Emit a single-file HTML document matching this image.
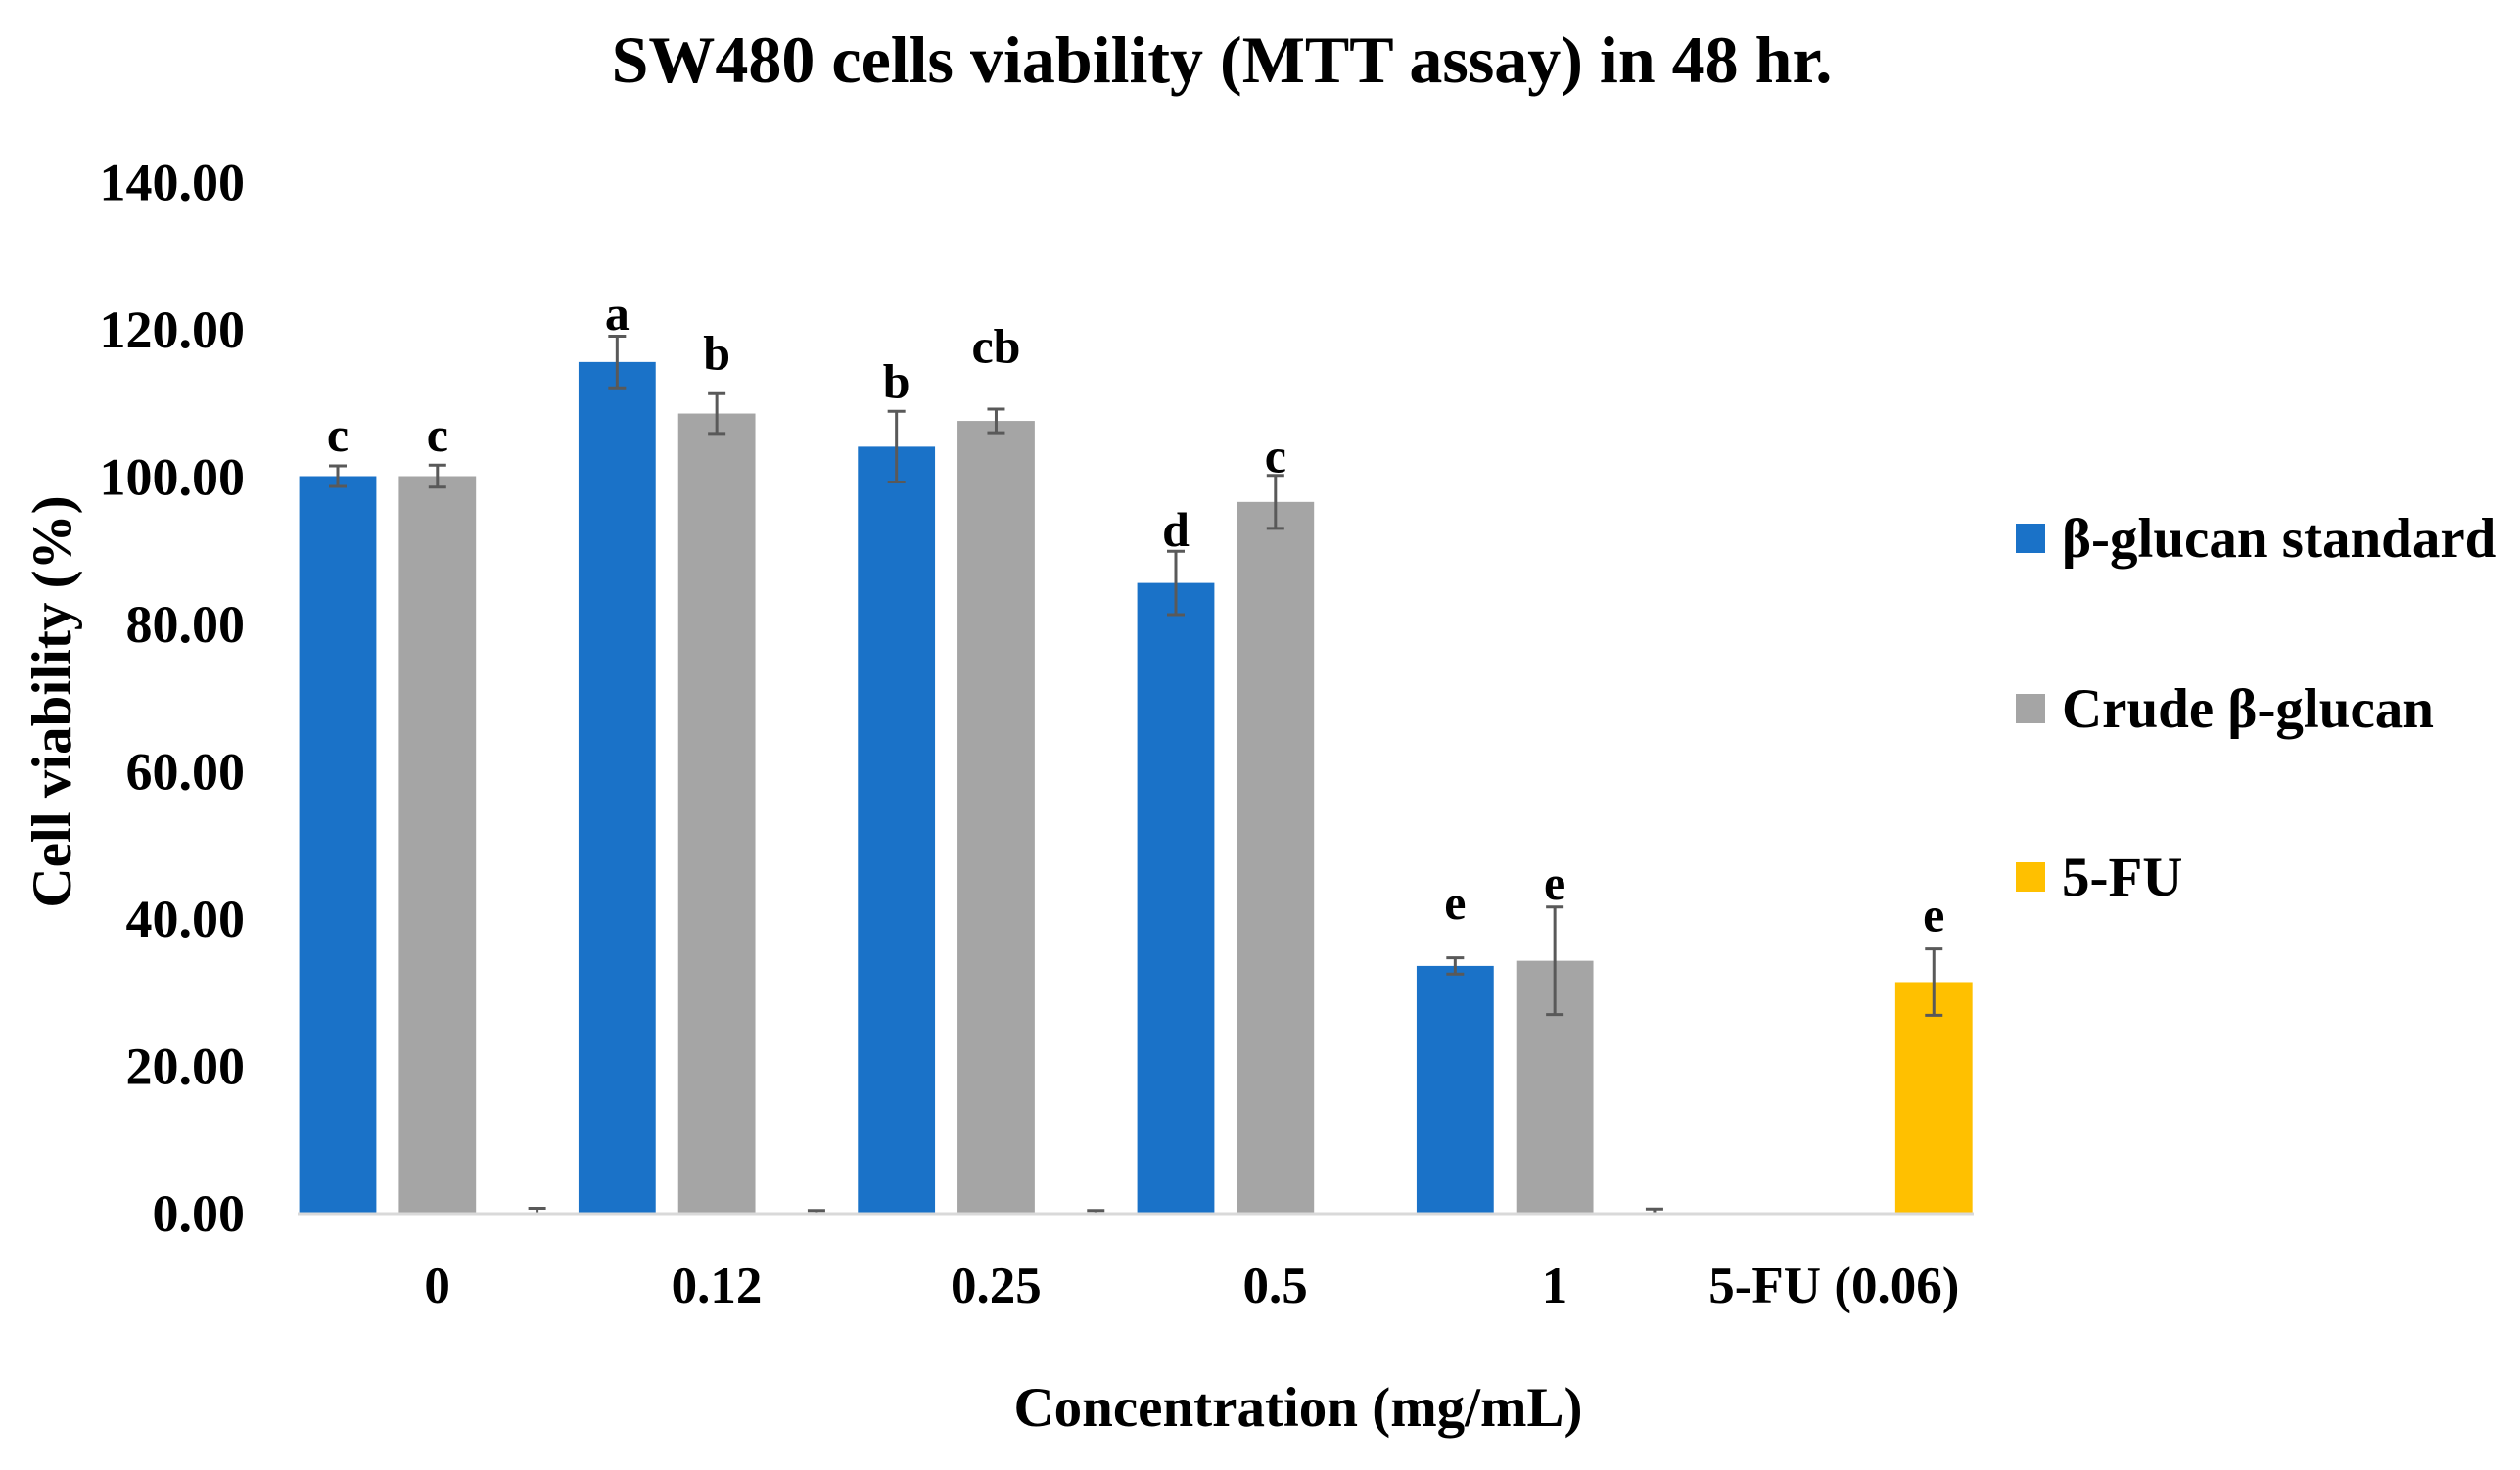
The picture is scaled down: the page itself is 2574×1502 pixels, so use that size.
<!DOCTYPE html>
<html><head><meta charset="utf-8"><style>
html,body{margin:0;padding:0;background:#fff;}
svg{display:block;font-family:"Liberation Serif",serif;font-weight:bold;}
</style></head><body>
<svg id="chart" width="2574" height="1502" viewBox="0 0 2574 1502" xmlns="http://www.w3.org/2000/svg">
<text x="1248" y="84" text-anchor="middle" font-size="68">SW480 cells viability (MTT assay) in 48 hr.</text>
<text transform="translate(72,717) rotate(-90)" text-anchor="middle" font-size="57">Cell viability (%)</text>
<text x="1326" y="1457" text-anchor="middle" font-size="57">Concentration (mg/mL)</text>
<g id="yticks"></g>
<g id="bars"></g>
<line x1="304" y1="1240" x2="2016" y2="1240" stroke="#d9d9d9" stroke-width="3"/>
<g id="xlabels"></g>
<g id="legend"></g>
</svg>
<script>
const categories = ["0","0.12","0.25","0.5","1","5-FU (0.06)"];
const seriesNames = ["β-glucan standard","Crude β-glucan","5-FU"];
const standardVals = [100, 115.5, 104, 85.5, 33.5, 0];
const crudeVals = [100, 108.5, 107.5, 96.5, 34.2, 0];
const fuVals = [0, 0, 0, 0, 0, 31.3];
const standardErr = [1.4, 3.5, 4.8, 4.3, 1.1, 0];
const crudeErr = [1.5, 2.7, 1.6, 3.6, 7.3, 0];
const fuErr = [0.6, 0.3, 0.3, 0, 0.5, 4.5];
const standardLetters = ["c","a","b","d","e",""];
const crudeLetters = ["c","b","cb","c","e",""];
const fuLetters = ["","","","","","e"];
const standardLetterY = [103.4, 119.9, 110.6, 90.5, 39.9, 0];
const crudeLetterY = [103.4, 114.5, 115.4, 100.5, 42.5, 0];
const fuLetterY = [0, 0, 0, 0, 0, 38.2];
const yTicks = [0,20,40,60,80,100,120,140];

const NS="http://www.w3.org/2000/svg";
const plotL=304, plotR=2016, y0=1239, yTopPx=185.5, yMax=140;
const catW=(plotR-plotL)/categories.length;
const barW=78.8, barStep=101.8, barOff=1.6;
const colors=["#1a72c8","#a5a5a5","#ffc000"];
function yScale(v){return y0-(v/yMax)*(y0-yTopPx);}
function xBar(ci,si){return plotL+ci*catW+barOff+si*barStep;}
function mk(tag,attrs,parent){const e=document.createElementNS(NS,tag);for(const k in attrs)e.setAttribute(k,attrs[k]);parent.appendChild(e);return e;}

const yt=document.getElementById('yticks');
yTicks.forEach(t=>{
  const e=mk('text',{x:250,y:yScale(t)+19,'text-anchor':'end','font-size':54},yt);
  
  
  e.textContent=t.toFixed(2);
});

const bars=document.getElementById('bars');
const vals=[standardVals,crudeVals,fuVals];
const errs=[standardErr,crudeErr,fuErr];
const lets=[standardLetters,crudeLetters,fuLetters];
const letY=[standardLetterY,crudeLetterY,fuLetterY];
for(let s=0;s<3;s++){
  for(let c=0;c<categories.length;c++){
    const v=vals[s][c], x=xBar(c,s), cx=x+barW/2;
    if(v>0){
      const r=mk('rect',{x:x,y:yScale(v),width:barW,height:y0-yScale(v),fill:colors[s]},bars);
      
      
    }
    const e=errs[s][c];
    if(e>0){
      const g=mk('g',{stroke:'#595959','stroke-width':3},bars);
      
      
      const lo=v>0?yScale(v-e):y0;
      mk('line',{x1:cx,x2:cx,y1:yScale(v+e),y2:lo},g);
      mk('line',{x1:cx-9,x2:cx+9,y1:yScale(v+e),y2:yScale(v+e)},g);
      if(v>0) mk('line',{x1:cx-9,x2:cx+9,y1:lo,y2:lo},g);
    }
    const L=lets[s][c];
    if(L){
      const t=mk('text',{x:cx,y:yScale(letY[s][c]),'text-anchor':'middle','font-size':50},bars);
      
      
      t.textContent=L;
    }
  }
}

const xl=document.getElementById('xlabels');
categories.forEach((c,i)=>{
  const t=mk('text',{x:plotL+(i+0.5)*catW,y:1331,'text-anchor':'middle','font-size':53},xl);
  
  
  t.textContent=c;
});

const lg=document.getElementById('legend');
const legY=[550,724,896];
seriesNames.forEach((n,i)=>{
  const g=mk('g',{},lg);
  
  
  mk('rect',{x:2059,y:legY[i]-15,width:30,height:30,fill:colors[i]},g);
  const t=mk('text',{x:2106,y:legY[i]+19,'font-size':57},g);
  t.textContent=n;
});
</script>
</body></html>
